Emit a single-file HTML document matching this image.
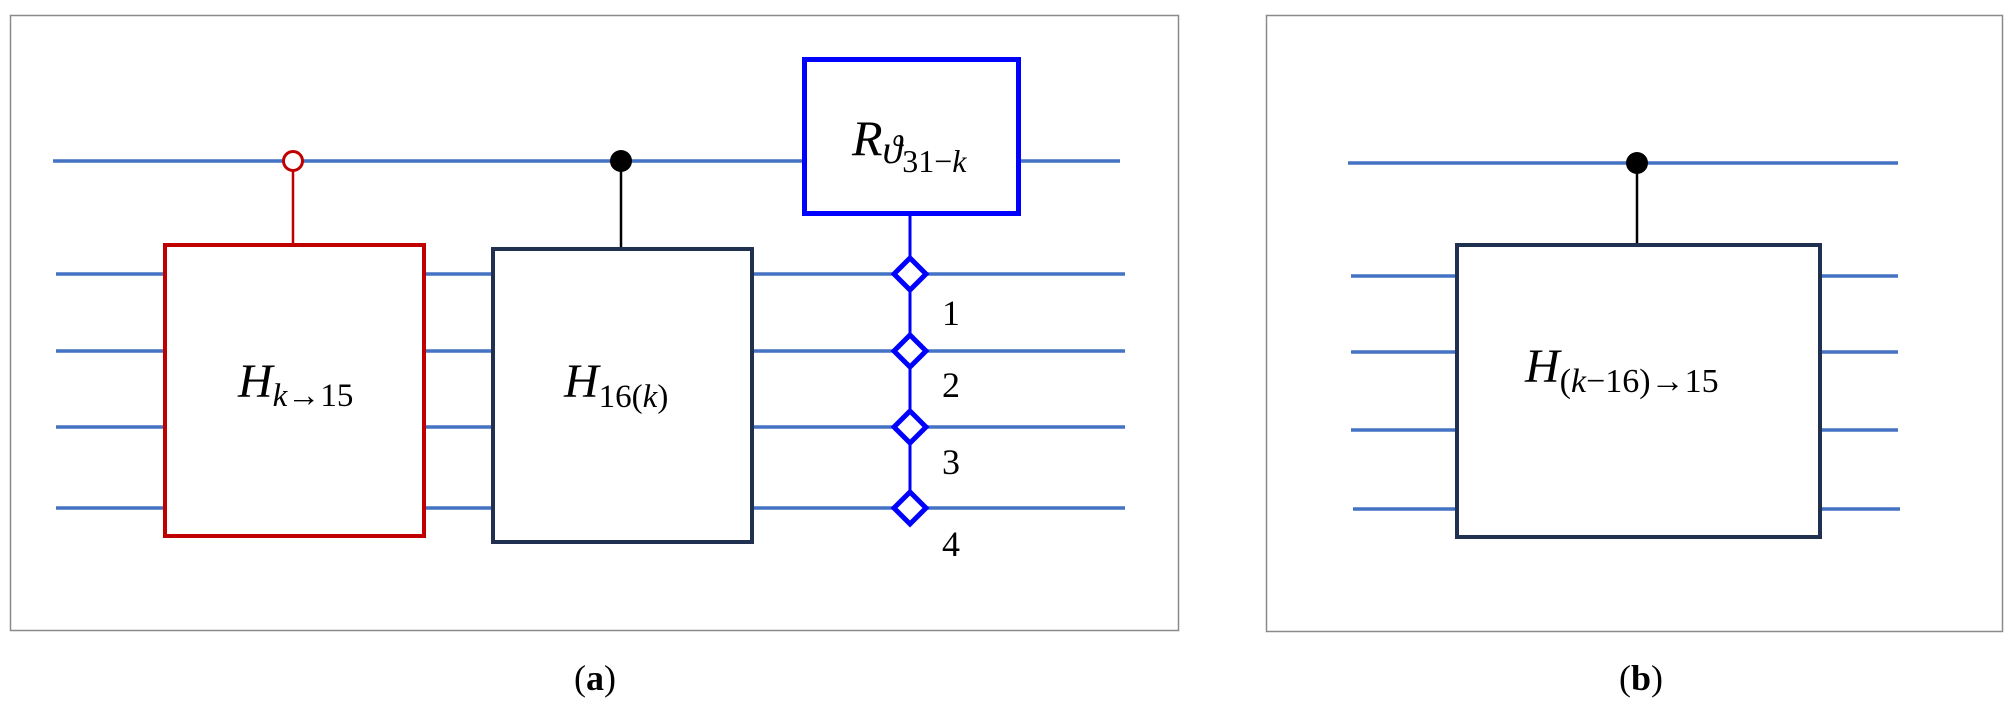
<!DOCTYPE html>
<html><head><meta charset="utf-8"><style>
html,body{margin:0;padding:0;background:#fff;}
svg{display:block;}
text{font-family:"Liberation Serif","DejaVu Serif",serif;fill:#000;}
.it{font-style:italic;}
</style></head><body>
<svg width="2013" height="717" viewBox="0 0 2013 717" xmlns="http://www.w3.org/2000/svg">
<rect x="10.5" y="15.5" width="1168" height="615" fill="#fff" stroke="#8a8a8a" stroke-width="1.5"/>
<rect x="1266.5" y="15.5" width="736" height="616" fill="#fff" stroke="#8a8a8a" stroke-width="1.5"/>
<g stroke="#4472c4" stroke-width="3.5">
<line x1="53" y1="161" x2="1120" y2="161"/>
<line x1="56" y1="274" x2="1125" y2="274"/>
<line x1="56" y1="351" x2="1125" y2="351"/>
<line x1="56" y1="427" x2="1125" y2="427"/>
<line x1="56" y1="508" x2="1125" y2="508"/>
<line x1="1348" y1="163" x2="1898" y2="163"/>
<line x1="1351" y1="276" x2="1898" y2="276"/>
<line x1="1351" y1="352" x2="1898" y2="352"/>
<line x1="1351" y1="430" x2="1898" y2="430"/>
<line x1="1353" y1="509" x2="1900" y2="509"/>
</g>
<line x1="293" y1="170" x2="293" y2="244" stroke="#c00000" stroke-width="2.5"/>
<rect x="165" y="245" width="259" height="291" fill="#fff" stroke="#c00000" stroke-width="4"/>
<circle cx="293" cy="161" r="9.5" fill="#fff" stroke="#c00000" stroke-width="3"/>
<line x1="621" y1="161" x2="621" y2="248" stroke="#000" stroke-width="2.5"/>
<rect x="493" y="249" width="259" height="293" fill="#fff" stroke="#1f3050" stroke-width="4"/>
<circle cx="621" cy="161" r="11" fill="#000"/>
<line x1="910" y1="216" x2="910" y2="520" stroke="#0000ff" stroke-width="3"/>
<rect x="804.5" y="59.5" width="214" height="154" fill="#fff" stroke="#0000ff" stroke-width="5"/>
<g fill="#fff" stroke="#0000ff" stroke-width="5">
<polygon points="910,258 926,274 910,290 894,274"/>
<polygon points="910,335 926,351 910,367 894,351"/>
<polygon points="910,411 926,427 910,443 894,427"/>
<polygon points="910,492 926,508 910,524 894,508"/>
</g>
<g font-size="36"><text x="942" y="325">1</text><text x="942" y="397">2</text><text x="942" y="474">3</text><text x="942" y="556">4</text></g>
<text x="238" y="397" font-size="48" class="it">H<tspan font-size="33" dy="9">k</tspan><tspan font-size="33" font-style="normal">→15</tspan></text>
<text x="564" y="397" font-size="48" class="it">H<tspan font-size="33" dy="10" font-style="normal">16(</tspan><tspan font-size="33">k</tspan><tspan font-size="33" font-style="normal">)</tspan></text>
<text x="852" y="155" font-size="50" class="it">R<tspan font-size="40" dy="8">ϑ</tspan><tspan font-size="32" dy="9" font-style="normal">31−</tspan><tspan font-size="32">k</tspan></text>
<line x1="1637" y1="163" x2="1637" y2="244" stroke="#000" stroke-width="2.5"/>
<rect x="1457" y="245" width="363" height="292" fill="#fff" stroke="#1f3050" stroke-width="4"/>
<circle cx="1637" cy="163" r="11" fill="#000"/>
<text x="1525" y="382" font-size="48" class="it">H<tspan font-size="34" dy="10" font-style="normal">(</tspan><tspan font-size="34">k</tspan><tspan font-size="34" font-style="normal">−16)→15</tspan></text>
<text x="595" y="690" font-size="36" text-anchor="middle">(<tspan font-weight="bold">a</tspan>)</text>
<text x="1641" y="690" font-size="36" text-anchor="middle">(<tspan font-weight="bold">b</tspan>)</text>
</svg>
</body></html>
